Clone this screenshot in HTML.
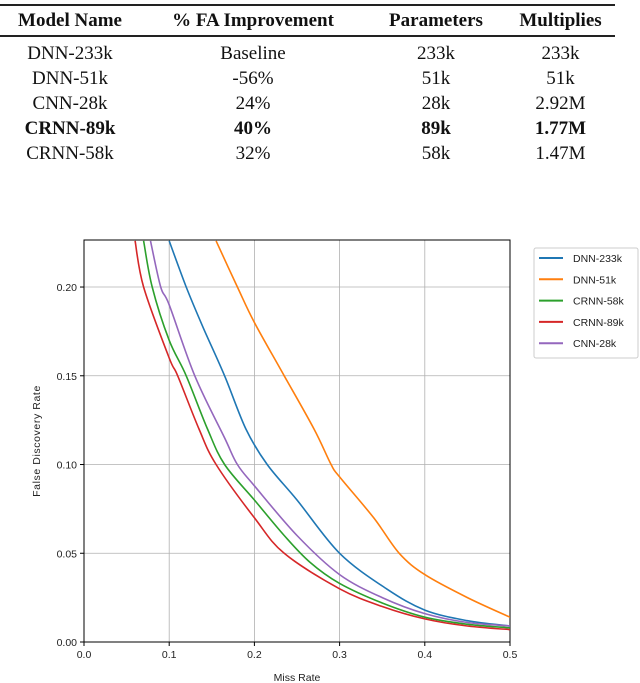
<!DOCTYPE html>
<html><head><meta charset="utf-8"><style>
body{margin:0;width:640px;height:683px;background:#fff;overflow:hidden;position:relative}
table{position:absolute;left:0;top:4px;width:615px;border-collapse:collapse;font-family:"Liberation Serif",serif;font-size:19px;color:#111}
th{font-weight:bold;height:29px;border-top:2px solid #222;border-bottom:2px solid #222;padding:0}
td{text-align:center;height:25px;padding:0}
tr.first td{padding-top:4px}
.b td{font-weight:bold}
</style></head><body>
<table>
<tr><th style="width:140px">Model Name</th><th style="width:226px">% FA Improvement</th><th style="width:140px">Parameters</th><th>Multiplies</th></tr>
<tr class="first"><td>DNN-233k</td><td>Baseline</td><td>233k</td><td>233k</td></tr>
<tr><td>DNN-51k</td><td>-56%</td><td>51k</td><td>51k</td></tr>
<tr><td>CNN-28k</td><td>24%</td><td>28k</td><td>2.92M</td></tr>
<tr class="b"><td>CRNN-89k</td><td>40%</td><td>89k</td><td>1.77M</td></tr>
<tr><td>CRNN-58k</td><td>32%</td><td>58k</td><td>1.47M</td></tr>
</table>
<svg id="chart" width="640" height="683" style="position:absolute;left:0;top:0"></svg>
<script>
const xTicks=[0,0.1,0.2,0.3,0.4,0.5];
const xTickLabels=["0.0","0.1","0.2","0.3","0.4","0.5"];
const yTicks=[0,0.05,0.10,0.15,0.20];
const yTickLabels=["0.00","0.05","0.10","0.15","0.20"];
const seriesNames=["DNN-233k","DNN-51k","CRNN-58k","CRNN-89k","CNN-28k"];
const seriesColors=["#1f77b4","#ff7f0e","#2ca02c","#d62728","#9467bd"];
const dnn233kX=[0.10,0.12,0.14,0.165,0.19,0.215,0.25,0.30,0.355,0.40,0.45,0.50];
const dnn233kY=[0.226,0.20,0.177,0.15,0.12,0.10,0.08,0.05,0.03,0.018,0.012,0.009];
const dnn51kX=[0.155,0.18,0.20,0.235,0.27,0.29,0.30,0.34,0.37,0.40,0.45,0.50];
const dnn51kY=[0.226,0.20,0.18,0.15,0.12,0.10,0.093,0.07,0.05,0.038,0.025,0.014];
const crnn58kX=[0.07,0.08,0.10,0.12,0.145,0.165,0.20,0.235,0.265,0.30,0.35,0.40,0.45,0.50];
const crnn58kY=[0.226,0.20,0.17,0.15,0.12,0.10,0.08,0.06,0.045,0.033,0.022,0.014,0.010,0.008];
const crnn89kX=[0.06,0.07,0.10,0.11,0.135,0.155,0.20,0.235,0.30,0.35,0.40,0.45,0.50];
const crnn89kY=[0.226,0.20,0.16,0.15,0.12,0.10,0.07,0.05,0.03,0.02,0.013,0.009,0.007];
const cnn28kX=[0.078,0.09,0.10,0.13,0.165,0.18,0.20,0.25,0.30,0.35,0.40,0.45,0.50];
const cnn28kY=[0.226,0.20,0.19,0.15,0.115,0.10,0.088,0.06,0.038,0.025,0.016,0.011,0.009];
const allX=[dnn233kX,dnn51kX,crnn58kX,crnn89kX,cnn28kX];
const allY=[dnn233kY,dnn51kY,crnn58kY,crnn89kY,cnn28kY];

const L=84,R=510,T=240,B=642,xMax=0.5,yMax=0.2265;
const sx=v=>L+v/xMax*(R-L);
const sy=v=>B-v/yMax*(B-T);
const NS="http://www.w3.org/2000/svg";
const svg=document.getElementById('chart');
function mk(tag,attrs,parent){const e=document.createElementNS(NS,tag);for(const k in attrs)e.setAttribute(k,attrs[k]);(parent||svg).appendChild(e);return e;}
function smooth(pts){
 let d='M'+pts[0][0].toFixed(1)+','+pts[0][1].toFixed(1);
 for(let i=0;i<pts.length-1;i++){
  const p0=pts[i-1]||pts[i],p1=pts[i],p2=pts[i+1],p3=pts[i+2]||p2;
  const c1=[p1[0]+(p2[0]-p0[0])/6,p1[1]+(p2[1]-p0[1])/6];
  const c2=[p2[0]-(p3[0]-p1[0])/6,p2[1]-(p3[1]-p1[1])/6];
  d+='C'+c1[0].toFixed(1)+','+c1[1].toFixed(1)+' '+c2[0].toFixed(1)+','+c2[1].toFixed(1)+' '+p2[0].toFixed(1)+','+p2[1].toFixed(1);
 }
 return d;
}
const font='"Liberation Sans", sans-serif';
xTicks.forEach((t,i)=>{
 const g=mk('line',{x1:sx(t),x2:sx(t),y1:T,y2:B,stroke:'#b0b0b0','stroke-width':0.8});
 
 
 mk('line',{x1:sx(t),x2:sx(t),y1:B,y2:B+4,stroke:'#000'});
 const tx=mk('text',{x:sx(t),y:B+16,'text-anchor':'middle','font-size':10.5,'font-family':font,fill:'#222'});
 tx.textContent=xTickLabels[i];
 
 
});
yTicks.forEach((t,i)=>{
 const g=mk('line',{x1:L,x2:R,y1:sy(t),y2:sy(t),stroke:'#b0b0b0','stroke-width':0.8});
 
 
 mk('line',{x1:L-4,x2:L,y1:sy(t),y2:sy(t),stroke:'#000'});
 const tx=mk('text',{x:L-7,y:sy(t)+4,'text-anchor':'end','font-size':10.5,'font-family':font,fill:'#222'});
 tx.textContent=yTickLabels[i];
 
 
});
const frame=mk('rect',{x:L,y:T,width:R-L,height:B-T,fill:'none',stroke:'#000','stroke-width':1});


const clip=mk('clipPath',{id:'pc'});mk('rect',{x:L,y:T,width:R-L,height:B-T},clip);
allX.forEach((xs,i)=>{
 const pts=xs.map((x,j)=>[sx(x),sy(allY[i][j])]);
 const p=mk('path',{d:smooth(pts),fill:'none',stroke:seriesColors[i],'stroke-width':1.6,'clip-path':'url(#pc)','stroke-linejoin':'round'});
 
 
});
const xl=mk('text',{x:297,y:681,'text-anchor':'middle','font-size':10.5,'font-family':font,fill:'#222'});
xl.textContent='Miss Rate';


const yl=mk('text',{x:0,y:0,transform:'translate(40,441) rotate(-90)','text-anchor':'middle','font-size':10.5,'font-family':font,fill:'#222','letter-spacing':'0.6'});
yl.textContent='False Discovery Rate';


const lg=mk('rect',{x:534,y:248,width:104,height:110,fill:'#fff',stroke:'#ccc',rx:2});


seriesNames.forEach((n,i)=>{
 const y=258+i*21.3;
 mk('line',{x1:539,x2:563,y1:y,y2:y,stroke:seriesColors[i],'stroke-width':2});
 const t=mk('text',{x:573,y:y+4,'font-size':10.5,'font-family':font,fill:'#222'});
 t.textContent=n;
 
 
});
</script>
</body></html>
